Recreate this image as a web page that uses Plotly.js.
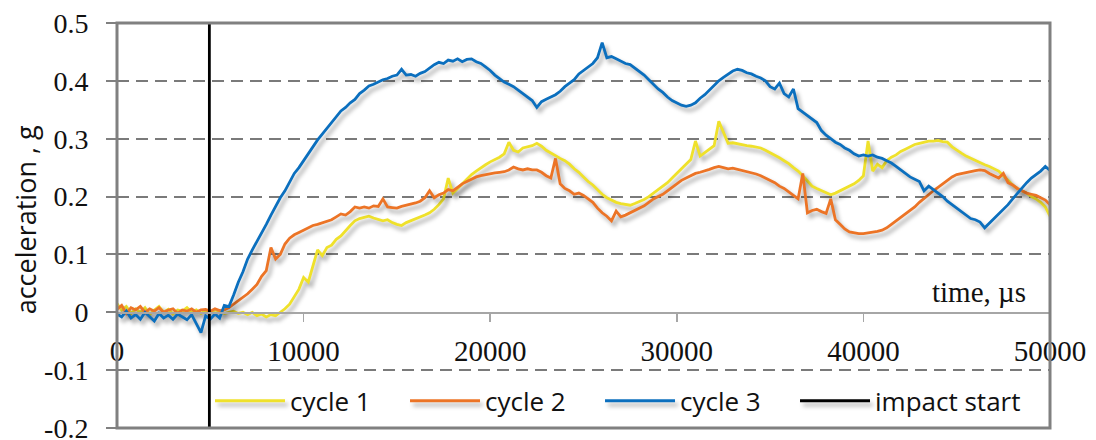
<!DOCTYPE html>
<html>
<head>
<meta charset="utf-8">
<script src="https://cdn.plot.ly/plotly-3.0.1.min.js"></script>
<style>
  html, body { margin: 0; padding: 0; background: #fff; }
  #chart { width: 1096px; height: 440px; }
  .scatterlayer .trace:not(:last-child) path.js-line { filter: drop-shadow(3px 4px 2px rgba(0,0,0,0.35)); }
  .legend .traces path.js-line { filter: drop-shadow(3px 4px 2px rgba(0,0,0,0.3)); }
  .legend .scrollbox { clip-path: none !important; }
</style>
</head>
<body>
<div id="chart"></div>
<script>
// time axis (µs), shared by the three cycles
const time = [
  0,250,500,750,1000,1250,1500,1750,2000,2250,2500,2750,3000,3250,3500,3750,4000,4250,4500,4750,
  5000,5250,5500,5750,6000,6250,6500,6750,7000,7250,7500,7750,8000,8250,8500,8750,9000,9250,9500,9750,
  10000,10250,10500,10750,11000,11250,11500,11750,12000,12250,12500,12750,13000,13250,13500,13750,14000,14250,14500,14750,
  15000,15250,15500,15750,16000,16250,16500,16750,17000,17250,17500,17750,18000,18250,18500,18750,19000,19250,19500,19750,
  20000,20250,20500,20750,21000,21250,21500,21750,22000,22250,22500,22750,23000,23250,23500,23750,24000,24250,24500,24750,
  25000,25250,25500,25750,26000,26250,26500,26750,27000,27250,27500,27750,28000,28250,28500,28750,29000,29250,29500,29750,
  30000,30250,30500,30750,31000,31250,31500,31750,32000,32250,32500,32750,33000,33250,33500,33750,34000,34250,34500,34750,
  35000,35250,35500,35750,36000,36250,36500,36750,37000,37250,37500,37750,38000,38250,38500,38750,39000,39250,39500,39750,
  40000,40250,40500,40750,41000,41250,41500,41750,42000,42250,42500,42750,43000,43250,43500,43750,44000,44250,44500,44750,
  45000,45250,45500,45750,46000,46250,46500,46750,47000,47250,47500,47750,48000,48250,48500,48750,49000,49250,49500,49750,
  50000
];

// cycle 1 (yellow)
const cycle1 = [
  0.015,0.004,0.010,-0.002,0.006,0.000,0.008,-0.004,0.004,0.010,0.000,0.005,-0.003,0.004,0.002,0.008,0.000,0.004,-0.002,0.003,
  0.000,0.004,0.002,-0.002,0.000,0.002,-0.002,0.000,-0.004,0.000,-0.006,-0.003,-0.008,-0.004,-0.006,0.000,0.006,0.014,0.028,0.040,
  0.060,0.052,0.080,0.108,0.098,0.112,0.116,0.126,0.132,0.142,0.150,0.158,0.162,0.164,0.166,0.163,0.161,0.158,0.160,0.155,
  0.152,0.150,0.155,0.158,0.162,0.164,0.168,0.172,0.178,0.186,0.196,0.232,0.206,0.214,0.222,0.230,0.238,0.244,0.250,0.255,
  0.260,0.264,0.268,0.274,0.294,0.280,0.277,0.284,0.286,0.288,0.292,0.287,0.280,0.275,0.270,0.266,0.262,0.256,0.248,0.242,
  0.234,0.226,0.220,0.212,0.204,0.198,0.194,0.190,0.188,0.186,0.185,0.188,0.191,0.195,0.200,0.206,0.212,0.218,0.224,0.232,
  0.240,0.248,0.256,0.264,0.296,0.270,0.276,0.282,0.288,0.330,0.312,0.292,0.293,0.291,0.290,0.288,0.287,0.286,0.284,0.280,
  0.276,0.272,0.267,0.262,0.257,0.250,0.244,0.236,0.226,0.218,0.214,0.210,0.206,0.203,0.206,0.210,0.214,0.218,0.222,0.228,
  0.236,0.296,0.244,0.256,0.250,0.262,0.268,0.272,0.278,0.282,0.286,0.290,0.292,0.294,0.296,0.296,0.297,0.295,0.294,0.286,
  0.280,0.275,0.270,0.266,0.262,0.258,0.255,0.252,0.248,0.244,0.236,0.228,0.220,0.214,0.210,0.206,0.200,0.196,0.190,0.182,
  0.166
];

// cycle 2 (orange)
const cycle2 = [
  0.005,0.012,-0.002,0.008,0.004,0.010,0.000,0.006,0.002,0.008,0.000,0.004,0.006,-0.002,0.004,0.002,0.006,0.000,0.004,0.005,
  0.002,0.006,0.003,0.004,0.008,0.014,0.020,0.026,0.032,0.040,0.048,0.062,0.072,0.112,0.092,0.100,0.118,0.128,0.134,0.138,
  0.142,0.146,0.150,0.152,0.155,0.158,0.160,0.165,0.170,0.168,0.174,0.182,0.180,0.182,0.180,0.184,0.183,0.196,0.182,0.181,
  0.180,0.183,0.185,0.186,0.189,0.192,0.198,0.210,0.198,0.203,0.206,0.212,0.210,0.216,0.222,0.226,0.230,0.234,0.236,0.238,
  0.240,0.241,0.242,0.243,0.246,0.251,0.248,0.246,0.248,0.246,0.246,0.242,0.236,0.232,0.266,0.222,0.214,0.210,0.204,0.206,
  0.202,0.196,0.190,0.180,0.172,0.166,0.158,0.175,0.165,0.168,0.172,0.176,0.180,0.184,0.190,0.196,0.200,0.204,0.210,0.216,
  0.222,0.228,0.232,0.236,0.240,0.242,0.244,0.247,0.250,0.252,0.250,0.248,0.249,0.247,0.246,0.244,0.242,0.239,0.236,0.232,
  0.229,0.224,0.218,0.214,0.208,0.202,0.196,0.240,0.172,0.176,0.178,0.174,0.171,0.196,0.160,0.152,0.144,0.139,0.137,0.136,
  0.136,0.137,0.138,0.140,0.142,0.146,0.152,0.158,0.164,0.170,0.176,0.182,0.190,0.197,0.204,0.210,0.216,0.222,0.228,0.234,
  0.238,0.240,0.242,0.244,0.245,0.246,0.245,0.240,0.236,0.232,0.240,0.224,0.220,0.214,0.210,0.206,0.204,0.202,0.198,0.194,
  0.186
];

// cycle 3 (blue)
const cycle3 = [
  -0.003,-0.008,0.002,-0.010,-0.004,-0.012,0.000,-0.008,-0.015,-0.002,-0.010,-0.005,-0.012,-0.003,-0.008,-0.013,-0.004,-0.020,-0.035,-0.006,
  -0.012,-0.003,-0.010,0.012,0.010,0.030,0.052,0.070,0.092,0.108,0.122,0.138,0.152,0.168,0.184,0.198,0.210,0.224,0.240,0.250,
  0.262,0.276,0.286,0.298,0.308,0.318,0.330,0.338,0.348,0.354,0.362,0.368,0.378,0.384,0.391,0.394,0.398,0.402,0.404,0.408,
  0.410,0.420,0.410,0.411,0.408,0.413,0.416,0.422,0.428,0.432,0.430,0.436,0.434,0.438,0.433,0.437,0.438,0.433,0.430,0.424,
  0.418,0.410,0.404,0.398,0.394,0.390,0.384,0.378,0.372,0.366,0.354,0.364,0.368,0.372,0.376,0.382,0.390,0.396,0.402,0.412,
  0.418,0.424,0.430,0.440,0.466,0.440,0.442,0.438,0.434,0.430,0.428,0.422,0.416,0.410,0.402,0.394,0.386,0.380,0.372,0.366,
  0.362,0.358,0.356,0.358,0.362,0.370,0.376,0.384,0.392,0.400,0.406,0.412,0.417,0.420,0.418,0.414,0.412,0.408,0.405,0.400,
  0.390,0.386,0.396,0.378,0.372,0.386,0.352,0.346,0.340,0.334,0.328,0.314,0.306,0.300,0.294,0.290,0.284,0.280,0.274,0.270,
  0.272,0.270,0.272,0.268,0.266,0.262,0.258,0.252,0.246,0.240,0.234,0.230,0.226,0.210,0.218,0.212,0.206,0.200,0.192,0.186,
  0.180,0.174,0.168,0.162,0.160,0.156,0.146,0.154,0.162,0.170,0.178,0.186,0.196,0.206,0.216,0.224,0.232,0.238,0.244,0.252,
  0.245
];

// impact start marker
const impactTime = [4950, 4950];
const impactAcc = [-0.2, 0.5];

const seriesNames = ['cycle 1', 'cycle 2', 'cycle 3', 'impact start'];
const xTickVals = [0, 10000, 20000, 30000, 40000, 50000];
const yTickVals = [-0.2, -0.1, 0, 0.1, 0.2, 0.3, 0.4, 0.5];
const yTickText = ['-0.2', '-0.1', '0', '0.1', '0.2', '0.3', '0.4', '0.5'];
const yTitle = 'acceleration , g';
const xTitle = 'time, µs';

const serif = '"Liberation Serif", "DejaVu Serif", serif';
const sans = '"Open Sans", Lato, sans-serif';

const traces = [
  {x: time, y: cycle1, name: seriesNames[0], mode: 'lines', line: {color: '#EFE12B', width: 2.8}},
  {x: time, y: cycle2, name: seriesNames[1], mode: 'lines', line: {color: '#EC7426', width: 2.8}},
  {x: time, y: cycle3, name: seriesNames[2], mode: 'lines', line: {color: '#0B6FBE', width: 2.8}},
  {x: impactTime, y: impactAcc, name: seriesNames[3], mode: 'lines', line: {color: '#000000', width: 2.8}}
];

const layout = {
  width: 1096, height: 440,
  margin: {l: 117, r: 46, t: 23, b: 12},
  paper_bgcolor: '#ffffff', plot_bgcolor: '#ffffff',
  showlegend: true,
  legend: {
    orientation: 'h', x: 0.0997, xanchor: 'left', y: 0.125, yanchor: 'top',
    bgcolor: 'rgba(0,0,0,0)', font: {family: sans, size: 26, color: '#111'},
    itemwidth: 70, entrywidth: 110, entrywidthmode: 'pixels', traceorder: 'normal'
  },
  xaxis: {
    range: [0, 50000], anchor: 'free', position: 2/7,
    tickvals: xTickVals, tickformat: 'd',
    showline: true, linecolor: '#a6a6a6', linewidth: 1.5,
    ticks: 'outside', ticklen: 8, tickcolor: '#a6a6a6', tickwidth: 1.5,
    ticklabelstandoff: 4, ticklabeloverflow: 'allow',
    showgrid: false, zeroline: false,
    tickfont: {family: serif, size: 29, color: '#111'}
  },
  yaxis: {
    range: [-0.2, 0.5], tickvals: yTickVals, ticktext: yTickText,
    showline: false, zeroline: true, zerolinecolor: '#a6a6a6', zerolinewidth: 1.5,
    showgrid: true, gridcolor: '#7a7a7a', gridwidth: 2, griddash: '12px,7px',
    ticks: 'outside', ticklen: 10, tickcolor: '#808080', tickwidth: 2,
    ticklabelstandoff: 12, ticklabeloverflow: 'allow',
    tickfont: {family: serif, size: 28, color: '#111'}
  },
  shapes: [
    {type: 'rect', xref: 'paper', yref: 'paper', x0: 0, x1: 1, y0: 0, y1: 1,
     line: {color: '#808080', width: 3}, layer: 'above'}
  ],
  annotations: [
    {text: xTitle, xref: 'paper', yref: 'paper', x: 0.976, y: 0.335,
     xanchor: 'right', yanchor: 'middle', showarrow: false,
     font: {family: serif, size: 29, color: '#111'}},
    {text: yTitle, xref: 'paper', yref: 'paper', x: -0.0985, y: 0.513,
     xanchor: 'center', yanchor: 'middle', textangle: -90, showarrow: false,
     font: {family: sans, size: 27, color: '#111'}}
  ]
};

Plotly.newPlot('chart', traces, layout, {displayModeBar: false, staticPlot: true});
</script>
</body>
</html>
